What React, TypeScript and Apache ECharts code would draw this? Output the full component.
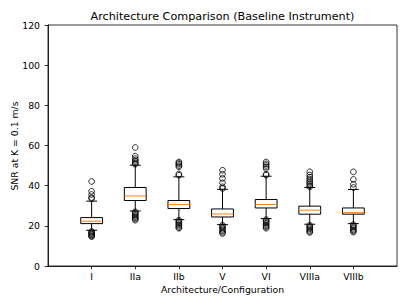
import React, { useEffect, useRef } from 'react';
import * as echarts from 'echarts';

const categories = ['I', 'IIa', 'IIb', 'V', 'VI', 'VIIIa', 'VIIIb'];
const whiskerLow = [17.8, 27.4, 23.1, 20.6, 23.6, 20.8, 21.1];
const q1 = [21.1, 32.6, 28.6, 24.4, 28.9, 25.8, 25.8];
const median = [22.3, 34.9, 30.6, 25.9, 30.6, 27.8, 26.6];
const q3 = [24.1, 39.1, 32.6, 28.4, 33.1, 29.8, 28.9];
const whiskerHigh = [32.3, 50.2, 44.4, 38.2, 44.7, 39.1, 38.1];
const outliersHigh = [
  [33.6, 34.1, 35.6, 37.2, 42.1],
  [50.7, 51.2, 52.0, 52.7, 53.5, 54.7, 59.0],
  [45.2, 45.8, 49.4, 50.0, 50.7, 51.3, 51.8],
  [38.6, 39.4, 41.4, 43.6, 45.7, 47.7],
  [45.2, 45.7, 48.5, 49.3, 50.1, 50.9, 51.8],
  [39.4, 40.0, 40.8, 41.6, 42.4, 43.3, 44.2, 45.3, 46.9],
  [39.1, 40.7, 43.1, 46.9],
];
const outliersLow = [
  [17.2, 16.8, 16.3, 15.9, 15.5, 15.0, 14.6],
  [27.0, 26.4, 25.8, 25.2, 24.6, 24.0, 23.4, 22.8],
  [22.8, 22.2, 21.6, 21.0, 20.4, 19.8, 19.2, 18.8],
  [20.3, 19.6, 18.9, 18.2, 17.5, 16.8, 16.2],
  [23.1, 22.5, 21.9, 21.3, 20.6, 20.0, 19.4, 18.8],
  [20.3, 19.7, 19.1, 18.5, 17.8, 17.2, 16.7],
  [20.6, 20.0, 19.4, 18.7, 18.0, 17.4, 16.9],
];
const yMin = 0;
const yMax = 120;
const yInterval = 20;

const titleText = 'Architecture Comparison (Baseline Instrument)';
const xName = 'Architecture/Configuration';
const yName = 'SNR at K = 0.1 m/s';

const FONT = 'DejaVu Sans';

export default function App() {
  const ref = useRef<HTMLDivElement>(null);
  useEffect(() => {
    document.body.style.margin = '0';
    const chart = echarts.init(ref.current!, null, { renderer: 'svg' });
    const axisCats = ['', ...categories, ' '];
    const boxData = categories.map((_, i) => [
      i + 1, whiskerLow[i], q1[i], median[i], q3[i], whiskerHigh[i],
    ]);
    const flierData: number[][] = [];
    categories.forEach((_, i) => {
      [...outliersLow[i], ...outliersHigh[i]].forEach((v) => flierData.push([i + 1, v]));
    });
    const black = '#000';
    chart.setOption({
      animation: false,
      grid: {
        left: 48, right: 10, top: 25, bottom: 39,
        show: true, borderColor: black, borderWidth: 0.8, backgroundColor: 'transparent',
      },
      graphic: [
        {
          type: 'text', x: 222.5, y: 16,
          style: { text: titleText, font: `11.2px "${FONT}"`, fill: black, textAlign: 'center', textVerticalAlign: 'middle' },
        },
        {
          type: 'text', x: 222.5, y: 289.5,
          style: { text: xName, font: `9.3px "${FONT}"`, fill: black, textAlign: 'center', textVerticalAlign: 'middle' },
        },
        {
          type: 'text', x: 14, y: 146, rotation: Math.PI / 2,
          style: { text: yName, font: `9.3px "${FONT}"`, fill: black, textAlign: 'center', textVerticalAlign: 'middle' },
        },
      ],
      xAxis: {
        type: 'category',
        data: axisCats,
        boundaryGap: false,
        axisLine: { lineStyle: { color: black, width: 0.8 } },
        axisTick: {
          show: true, length: 3.3, lineStyle: { color: black, width: 0.8 },
          interval: (i: number) => i > 0 && i < axisCats.length - 1,
        },
        axisLabel: { interval: 0, color: black, fontFamily: FONT, fontSize: 9.3, margin: 6 },
        splitLine: { show: false },
      },
      yAxis: {
        type: 'value',
        min: yMin, max: yMax, interval: yInterval,
        axisLine: { show: true, lineStyle: { color: black, width: 0.8 } },
        axisTick: { show: true, length: 3.3, lineStyle: { color: black, width: 0.8 } },
        axisLabel: { color: black, fontFamily: FONT, fontSize: 9.3, margin: 8 },
        splitLine: { show: false },
      },
      series: [
        {
          type: 'custom',
          data: boxData,
          encode: { x: 0, y: [1, 2, 3, 4, 5] },
          renderItem: (params: any, api: any) => {
            const xi = api.value(0);
            const c0 = api.coord([xi, 0]);
            const step = api.coord([xi + 1, 0])[0] - c0[0];
            const cx = c0[0];
            const yL = api.coord([xi, api.value(1)])[1];
            const yQ1 = api.coord([xi, api.value(2)])[1];
            const yMed = api.coord([xi, api.value(3)])[1];
            const yQ3 = api.coord([xi, api.value(4)])[1];
            const yH = api.coord([xi, api.value(5)])[1];
            const hw = step * 0.25;
            const cw = step * 0.125;
            const ls = { stroke: black, lineWidth: 1 };
            return {
              type: 'group',
              children: [
                { type: 'line', shape: { x1: cx, y1: yQ1, x2: cx, y2: yL }, style: ls },
                { type: 'line', shape: { x1: cx, y1: yQ3, x2: cx, y2: yH }, style: ls },
                { type: 'line', shape: { x1: cx - cw, y1: yL, x2: cx + cw, y2: yL }, style: ls },
                { type: 'line', shape: { x1: cx - cw, y1: yH, x2: cx + cw, y2: yH }, style: ls },
                { type: 'rect', shape: { x: cx - hw, y: yQ3, width: hw * 2, height: yQ1 - yQ3 }, style: { fill: 'none', stroke: black, lineWidth: 1 } },
                { type: 'line', shape: { x1: cx - hw, y1: yMed, x2: cx + hw, y2: yMed }, style: { stroke: '#ff7f0e', lineWidth: 1 } },
              ],
            };
          },
          z: 2,
        },
        {
          type: 'scatter',
          data: flierData,
          symbol: 'circle',
          symbolSize: 5.7,
          itemStyle: { color: 'transparent', borderColor: black, borderWidth: 1 },
          z: 3,
        },
      ],
    });
    return () => chart.dispose();
  }, []);
  return <div ref={ref} style={{ width: 407, height: 305 }} />;
}
